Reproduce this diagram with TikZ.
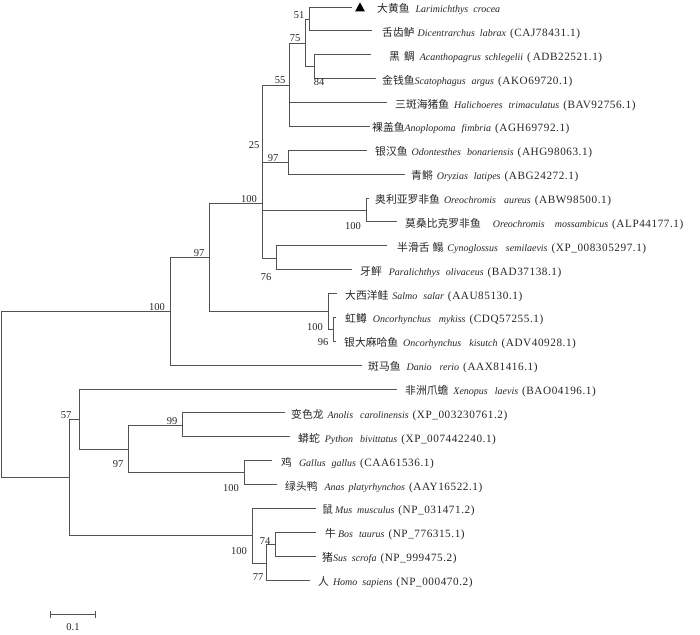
\documentclass[tikz,border=0pt]{standalone}
\usepackage{fontspec}
\setmainfont{Liberation Serif}
\newfontfamily\cj[Scale=1.08]{Noto Sans CJK SC}
\newfontfamily\accfont[LetterSpace=5,Scale=1.12]{Liberation Serif}
\newcommand{\accn}[1]{{\accfont(#1)}}
\usetikzlibrary{arrows.meta}
\begin{document}
\begin{tikzpicture}[x=1pt,y=-1pt,
  br/.style={draw=black!68, line width=0.9pt},
  leaf/.style={anchor=base west, inner sep=0pt, font=\fontsize{10}{12}\selectfont, text=black!85},
  bs/.style={inner sep=0pt, font=\fontsize{10.5}{12}\selectfont, text=black!85},
  ]
\useasboundingbox (0,0) rectangle (700,634);

% ---------- internal nodes ----------
\coordinate (root) at (1,394);
\coordinate (n100f) at (170,311);
\coordinate (n97b) at (209,257);
\coordinate (n100b) at (262,203);
\coordinate (n55) at (289,85);
\coordinate (n75) at (305,43);
\coordinate (n51) at (309,19);
\coordinate (n84) at (314,66.7);
\coordinate (n97a) at (288,162);
\coordinate (n100t) at (366,210);
\coordinate (n76) at (276,258);
\coordinate (n100s) at (328,311);
\coordinate (n96) at (333,329);
\coordinate (n57) at (69,477);
\coordinate (nX) at (79,419);
\coordinate (n97c) at (128,449);
\coordinate (n99) at (182,425);
\coordinate (n100v) at (244,472.5);
\coordinate (n100m) at (252,535);
\coordinate (n77) at (266,563);
\coordinate (n74) at (275,544.2);

% ---------- leaf line ends ----------
\coordinate (e0) at (352,7);
\coordinate (e1) at (372,30.9);
\coordinate (e2) at (371,54.75);
\coordinate (e3) at (376,78.6);
\coordinate (e4) at (387,102.5);
\coordinate (e5) at (370,126.4);
\coordinate (e6) at (367,150.25);
\coordinate (e7) at (405,174.1);
\coordinate (e8) at (369,198);
\coordinate (e9) at (397,221.9);
\coordinate (e10) at (387,245.75);
\coordinate (e11) at (352,269.6);
\coordinate (e12) at (337,293.5);
\coordinate (e13) at (336,317.4);
\coordinate (e14) at (336,341.25);
\coordinate (e15) at (362,365.1);
\coordinate (e16) at (397,389);
\coordinate (e17) at (285,412.9);
\coordinate (e18) at (290,436.75);
\coordinate (e19) at (272,460.6);
\coordinate (e20) at (277,484.5);
\coordinate (e21) at (316,508.4);
\coordinate (e22) at (316,532.25);
\coordinate (e23) at (316,556.1);
\coordinate (e24) at (310,580);

% ---------- branches ----------
\draw[br] (root) |- (n100f);
\draw[br] (root) |- (n57);
\draw[br] (n100f) |- (n97b);
\draw[br] (n100f) |- (e15);
\draw[br] (n97b) |- (n100b);
\draw[br] (n97b) |- (n100s);
\draw[br] (n100b) |- (n55);
\draw[br] (n100b) |- (n97a);
\draw[br] (n100b) |- (n100t);
\draw[br] (n100b) |- (n76);
\coordinate (k25) at (262.9,148);
\draw[br] (k25) -- (k25 |- n100b);
\draw[br] (n55) |- (n75);
\draw[br] (n55) |- (e4);
\draw[br] (n55) |- (e5);
\draw[br] (n75) |- (n51);
\draw[br] (n75) |- (n84);
\draw[br] (n51) |- (e0);
\draw[br] (n51) |- (e1);
\draw[br] (n84) |- (e2);
\draw[br] (n84) |- (e3);
\draw[br] (n97a) |- (e6);
\draw[br] (n97a) |- (e7);
\draw[br] (n100t) |- (e8);
\draw[br] (n100t) |- (e9);
\draw[br] (n76) |- (e10);
\draw[br] (n76) |- (e11);
\draw[br] (n100s) |- (e12);
\draw[br] (n100s) |- (n96);
\draw[br] (n96) |- (e13);
\draw[br] (n96) |- (e14);
\draw[br] (n57) |- (nX);
\draw[br] (n57) |- (n100m);
\draw[br] (nX) |- (e16);
\draw[br] (nX) |- (n97c);
\draw[br] (n97c) |- (n99);
\draw[br] (n97c) |- (n100v);
\draw[br] (n99) |- (e17);
\draw[br] (n99) |- (e18);
\draw[br] (n100v) |- (e19);
\draw[br] (n100v) |- (e20);
\draw[br] (n100m) |- (e21);
\draw[br] (n100m) |- (n77);
\draw[br] (n77) |- (n74);
\draw[br] (n77) |- (e24);
\draw[br] (n74) |- (e22);
\draw[br] (n74) |- (e23);

% ---------- marker ----------
\fill[black] (355,11.5) -- (365,11.5) -- (360,2.5) -- cycle;

% ---------- leaf labels ----------
\node[leaf] (t0) at (377,12.5) {{\cj 大黄鱼}\hspace{6pt}\textit{Larimichthys}\hspace{5pt}\textit{crocea}};
\node[leaf] (t1) at (382,36.4) {{\cj 舌齿鲈}\hspace{3pt}\textit{Dicentrarchus}\hspace{5pt}\textit{labrax}\hspace{4pt}\accn{CAJ78431.1}};
\node[leaf] (t2) at (389,60.25) {{\cj 黑\hspace{4pt}鲷}\hspace{5pt}\textit{Acanthopagrus}\hspace{4pt}\textit{schlegelii}\hspace{4pt}\accn{\,ADB22521.1}};
\node[leaf] (t3) at (382,84.1) {{\cj 金钱鱼}\textit{Scatophagus}\hspace{6pt}\textit{argus}\hspace{4pt}\accn{AKO69720.1}};
\node[leaf] (t4) at (395,108) {{\cj 三斑海猪鱼}\hspace{5pt}\textit{Halichoeres}\hspace{6pt}\textit{trimaculatus}\hspace{4pt}\accn{BAV92756.1}};
\node[leaf] (t5) at (372,131.9) {{\cj 裸盖鱼}\textit{Anoplopoma}\hspace{6pt}\textit{fimbria}\hspace{4pt}\accn{AGH69792.1}};
\node[leaf] (t6) at (375,155.75) {{\cj 银汉鱼}\hspace{4pt}\textit{Odontesthes}\hspace{6pt}\textit{bonariensis}\hspace{4pt}\accn{AHG98063.1}};
\node[leaf] (t7) at (411,179.6) {{\cj 青鳉}\hspace{4pt}\textit{Oryzias}\hspace{6pt}\textit{latipes}\hspace{4pt}\accn{ABG24272.1}};
\node[leaf] (t8) at (375,203.5) {{\cj 奥利亚罗非鱼}\hspace{4pt}\textit{Oreochromis}\hspace{8pt}\textit{aureus}\hspace{4pt}\accn{ABW98500.1}};
\node[leaf] (t9) at (405,227.4) {{\cj 莫桑比克罗非鱼}\hspace{12pt}\textit{Oreochromis}\hspace{10pt}\textit{mossambicus}\hspace{4pt}\accn{ALP44177.1}};
\node[leaf] (t10) at (397,251.25) {{\cj 半滑舌\hspace{3pt}鳎}\hspace{4pt}\textit{Cynoglossus}\hspace{8pt}\textit{semilaevis}\hspace{4pt}\accn{XP\_008305297.1}};
\node[leaf] (t11) at (360,275.1) {{\cj 牙鲆}\hspace{7pt}\textit{Paralichthys}\hspace{6pt}\textit{olivaceus}\hspace{4pt}\accn{BAD37138.1}};
\node[leaf] (t12) at (345,299) {{\cj 大西洋鲑}\hspace{4pt}\textit{Salmo}\hspace{6pt}\textit{salar}\hspace{4pt}\accn{AAU85130.1}};
\node[leaf] (t13) at (345,322.9) {{\cj 虹鳟}\hspace{6pt}\textit{Oncorhynchus}\hspace{8pt}\textit{mykiss}\hspace{4pt}\accn{CDQ57255.1}};
\node[leaf] (t14) at (344,346.75) {{\cj 银大麻哈鱼}\hspace{5pt}\textit{Oncorhynchus}\hspace{8pt}\textit{kisutch}\hspace{4pt}\accn{ADV40928.1}};
\node[leaf] (t15) at (368,370.6) {{\cj 斑马鱼}\hspace{6pt}\textit{Danio}\hspace{8pt}\textit{rerio}\hspace{4pt}\accn{AAX81416.1}};
\node[leaf] (t16) at (405,394.5) {{\cj 非洲爪蟾}\hspace{5pt}\textit{Xenopus}\hspace{7pt}\textit{laevis}\hspace{4pt}\accn{BAO04196.1}};
\node[leaf] (t17) at (291,418.4) {{\cj 变色龙}\hspace{4pt}\textit{Anolis}\hspace{7pt}\textit{carolinensis}\hspace{4pt}\accn{XP\_003230761.2}};
\node[leaf] (t18) at (298,442.25) {{\cj 蟒蛇}\hspace{5pt}\textit{Python}\hspace{7pt}\textit{bivittatus}\hspace{4pt}\accn{XP\_007442240.1}};
\node[leaf] (t19) at (281,466.1) {{\cj 鸡}\hspace{7pt}\textit{Gallus}\hspace{6pt}\textit{gallus}\hspace{4pt}\accn{CAA61536.1}};
\node[leaf] (t20) at (285,490) {{\cj 绿头鸭}\hspace{7pt}\textit{Anas}\hspace{4pt}\textit{platyrhynchos}\hspace{4pt}\accn{AAY16522.1}};
\node[leaf] (t21) at (322,513.9) {{\cj 鼠}\hspace{2pt}\textit{Mus}\hspace{5pt}\textit{musculus}\hspace{4pt}\accn{NP\_031471.2}};
\node[leaf] (t22) at (325,537.75) {{\cj 牛}\hspace{2pt}\textit{Bos}\hspace{6pt}\textit{taurus}\hspace{4pt}\accn{NP\_776315.1}};
\node[leaf] (t23) at (322,561.6) {{\cj 猪}\textit{Sus}\hspace{5pt}\textit{scrofa}\hspace{4pt}\accn{NP\_999475.2}};
\node[leaf] (t24) at (318,585.5) {{\cj 人}\hspace{4pt}\textit{Homo}\hspace{5pt}\textit{sapiens}\hspace{4pt}\accn{NP\_000470.2}};

% ---------- bootstrap values ----------
\node[bs] (b51) at (299,15) {51};
\node[bs] (b75) at (295,38) {75};
\node[bs] (b84) at (319,82) {84};
\node[bs] (b55) at (280,80) {55};
\node[bs] (b25) at (254,145) {25};
\node[bs] (b97a) at (273,158) {97};
\node[bs] (b100b) at (249,199) {100};
\node[bs] (b100t) at (353,226) {100};
\node[bs] (b76) at (266,277) {76};
\node[bs] (b97b) at (199,253) {97};
\node[bs] (b100f) at (157,307) {100};
\node[bs] (b100s) at (315,327) {100};
\node[bs] (b96) at (323,342) {96};
\node[bs] (b57) at (66,415) {57};
\node[bs] (b99) at (172,421) {99};
\node[bs] (b97c) at (118,464) {97};
\node[bs] (b100v) at (231,488) {100};
\node[bs] (b100m) at (239,551) {100};
\node[bs] (b74) at (265,541) {74};
\node[bs] (b77) at (258,577) {77};

% ---------- scale bar ----------
\coordinate (s0) at (50,614);
\coordinate (s1) at (96,614);
\draw[br, {Bar[width=7pt]}-{Bar[width=7pt]}] (s0) -- (s1);
\node[bs] (sl) at (73,627) {0.1};
\end{tikzpicture}
\end{document}
